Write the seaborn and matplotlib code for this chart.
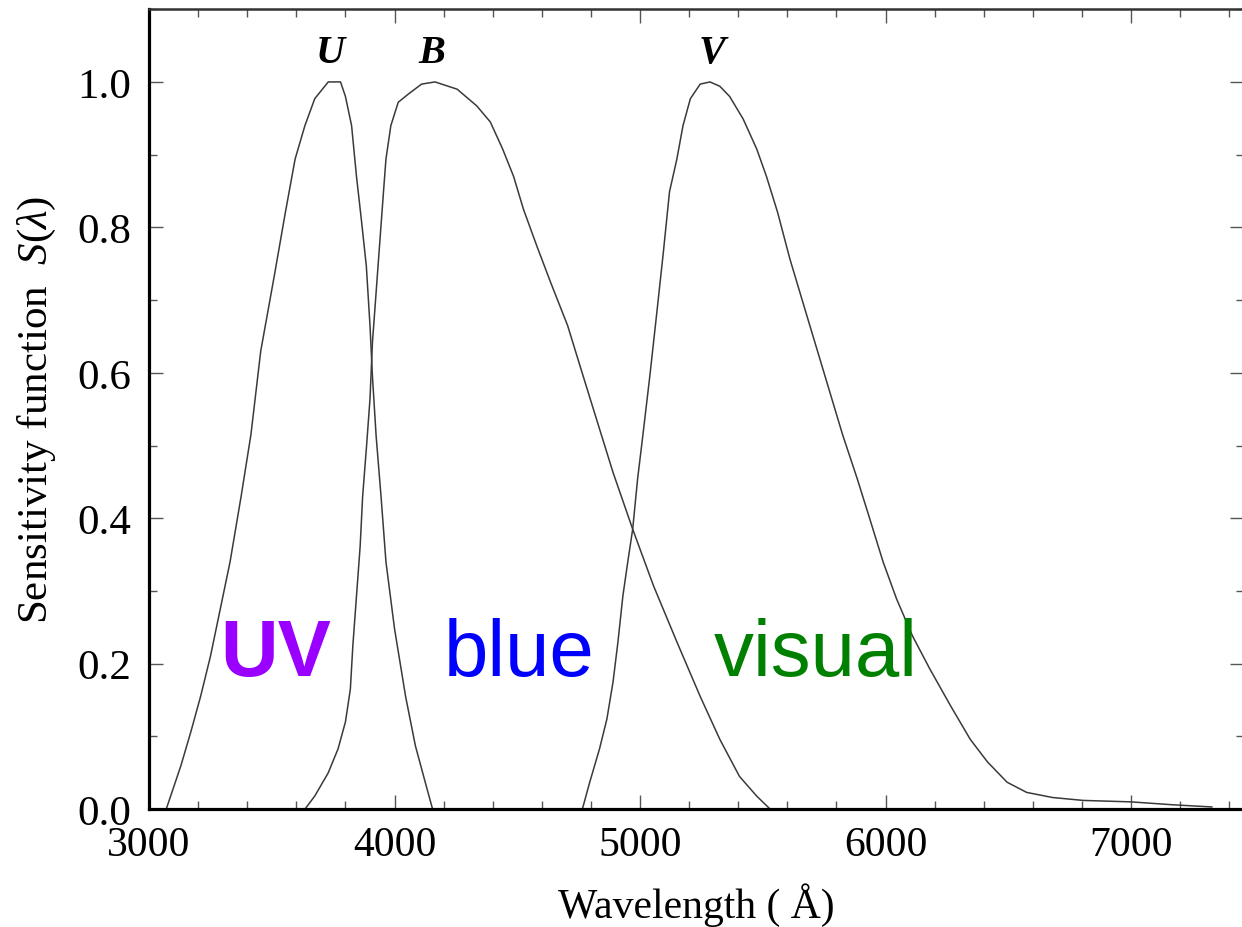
import numpy as np
import pandas as pd
import matplotlib.pyplot as plt
import seaborn as sns
from matplotlib.ticker import MultipleLocator

# Bessell-like UBV sensitivity curves
U_wave = [3070, 3130, 3170, 3210, 3250, 3290, 3330, 3375, 3415, 3455, 3510, 3555,
          3595, 3635, 3675, 3730, 3780, 3800, 3825, 3845, 3865, 3885, 3900, 3910,
          3925, 3945, 3965, 4000, 4045, 4085, 4125, 4155]
U_sens = [0.0, 0.06, 0.106, 0.155, 0.21, 0.275, 0.34, 0.43, 0.515, 0.63, 0.733, 0.82,
          0.894, 0.94, 0.977, 1.0, 1.0, 0.98, 0.94, 0.87, 0.81, 0.747, 0.665, 0.595,
          0.513, 0.43, 0.34, 0.248, 0.155, 0.087, 0.037, 0.0]

B_wave = [3635, 3675, 3730, 3770, 3800, 3820, 3830, 3845, 3860, 3870, 3885, 3900,
          3910, 3925, 3940, 3955, 3965, 3985, 4015, 4055, 4110, 4165, 4255, 4335,
          4390, 4440, 4485, 4525, 4580, 4635, 4705, 4755, 4810, 4890, 4970, 5055,
          5150, 5245, 5325, 5405, 5475, 5530]
B_sens = [0.0, 0.018, 0.05, 0.083, 0.12, 0.165, 0.224, 0.293, 0.362, 0.43, 0.495, 0.564,
          0.642, 0.711, 0.78, 0.849, 0.894, 0.94, 0.972, 0.983, 0.997, 1.0, 0.99, 0.967,
          0.945, 0.908, 0.87, 0.825, 0.774, 0.725, 0.665, 0.61, 0.55, 0.463, 0.385, 0.307,
          0.23, 0.155, 0.096, 0.045, 0.018, 0.0]

V_wave = [4765, 4795, 4835, 4865, 4890, 4910, 4930, 4950, 4970, 4990, 5010, 5040,
          5070, 5095, 5120, 5150, 5175, 5205, 5245, 5285, 5325, 5365, 5420, 5475,
          5515, 5560, 5610, 5680, 5745, 5825, 5885, 5935, 5990, 6045, 6110, 6180,
          6265, 6345, 6415, 6495, 6575, 6680, 6805, 7000, 7170, 7330]
V_sens = [0.0, 0.037, 0.083, 0.124, 0.175, 0.23, 0.293, 0.34, 0.385, 0.454, 0.51, 0.596,
          0.688, 0.766, 0.849, 0.894, 0.94, 0.977, 0.997, 1.0, 0.994, 0.98, 0.949, 0.908,
          0.87, 0.821, 0.757, 0.678, 0.605, 0.515, 0.454, 0.4, 0.34, 0.289, 0.238, 0.193,
          0.142, 0.096, 0.065, 0.037, 0.023, 0.016, 0.012, 0.01, 0.006, 0.003]

band_names = ["U", "B", "V"]
band_peaks = [3737, 4153, 5293]

region_names = ["UV", "blue", "visual"]
region_x = [3290, 4200, 5300]
region_colors = ["#9900ff", "#0000ff", "#008000"]
region_weights = ["bold", "normal", "normal"]


def main():
    sns.set_theme(style="ticks")
    plt.rcParams["font.family"] = ["Liberation Serif", "DejaVu Serif"]
    plt.rcParams["mathtext.fontset"] = "custom"
    plt.rcParams["mathtext.rm"] = "Liberation Serif"
    plt.rcParams["mathtext.it"] = "Liberation Serif:italic"
    plt.rcParams["text.color"] = "black"
    plt.rcParams["axes.labelcolor"] = "black"

    # long-form table of the three passbands
    df = pd.concat([
        pd.DataFrame({"band": "U", "wavelength": U_wave, "sens": U_sens}),
        pd.DataFrame({"band": "B", "wavelength": B_wave, "sens": B_sens}),
        pd.DataFrame({"band": "V", "wavelength": V_wave, "sens": V_sens}),
    ], ignore_index=True)

    fig = plt.figure(figsize=(12.42, 9.28), dpi=100)
    ax = fig.add_axes([0.12, 0.127, 0.8816, 0.862])

    sns.lineplot(data=df, x="wavelength", y="sens", units="band", estimator=None,
                 sort=False, color="#3a3a3a", lw=1.1, ax=ax)

    ax.set_xlim(3000, 7460)
    ax.set_ylim(0, 1.1)

    ax.xaxis.set_major_locator(MultipleLocator(1000))
    ax.xaxis.set_minor_locator(MultipleLocator(200))
    ax.yaxis.set_major_locator(MultipleLocator(0.2))
    ax.yaxis.set_minor_locator(MultipleLocator(0.1))
    ax.yaxis.set_major_formatter(lambda v, p: f"{v:.1f}")

    ax.tick_params(which="both", direction="in", top=True, right=True,
                   color="#555555", width=1.0, labelcolor="black")
    ax.tick_params(which="major", length=10)
    ax.tick_params(which="minor", length=5.5)
    ax.tick_params(axis="x", pad=12, labelsize=30)
    ax.tick_params(axis="y", pad=13, labelsize=31)

    for side in ["left", "bottom"]:
        ax.spines[side].set_linewidth(2.3)
        ax.spines[side].set_color("black")
    ax.spines["top"].set_linewidth(1.8)
    ax.spines["top"].set_color("#333333")

    ax.set_xlabel("Wavelength ( Å)", fontsize=30, labelpad=13)
    ax.set_ylabel(r"Sensitivity function  $S(\lambda)$", fontsize=31, labelpad=14)

    # band names above the peaks
    for name, x in zip(band_names, band_peaks):
        ax.text(x, 1.027, name, ha="center", va="baseline", fontsize=29,
                style="italic", weight="bold")

    # coloured region names
    for name, x, c, w in zip(region_names, region_x, region_colors, region_weights):
        ax.text(x, 0.185, name, ha="left", va="baseline", fontsize=57.5, color=c,
                weight=w, family=["Liberation Sans", "DejaVu Sans"])

    fig.savefig("out.png", dpi=100)
    plt.close(fig)


if __name__ == "__main__":
    main()
